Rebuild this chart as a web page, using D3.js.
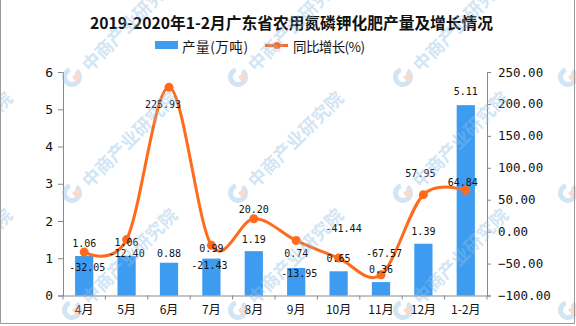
<!DOCTYPE html>
<html><head><meta charset="utf-8">
<script src="https://cdn.jsdelivr.net/npm/d3@7"></script>
<style>body{margin:0;background:#fff}svg{display:block}</style>
</head><body>
<script>
const categories = ["4月","5月","6月","7月","8月","9月","10月","11月","12月","1-2月"];
const production = [1.06,1.06,0.88,0.99,1.19,0.74,0.65,0.36,1.39,5.11];
const growth = [-32.05,-12.40,225.93,-21.43,20.20,-13.95,-41.44,-67.57,57.95,64.84];
const leftTicks = [0,1,2,3,4,5,6];
const rightTicks = [-100,-50,0,50,100,150,200,250];
const title = "2019-2020年1-2月广东省农用氮磷钾化肥产量及增长情况";
const legendLabels = ["产量(万吨)","同比增长(%)"];

const W = 576, H = 326;
const BLUE = "#3d9cf0", ORANGE = "#ff6a1c", AXIS = "#888";
const mono = "'DejaVu Sans Mono', monospace";
const cjk = "'Noto Sans CJK SC', sans-serif";

const svg = d3.select("body").append("svg").attr("width", W).attr("height", H);

const x = d3.scaleBand().domain(categories).range([63, 487]).padding(0);
const yL = d3.scaleLinear().domain([0, 6]).range([295.5, 72]);
const yR = d3.scaleLinear().domain([-100, 250]).range([295.5, 72]);
const barW = x.bandwidth() * 0.43;
const cx = d => x(d) + x.bandwidth() / 2;

// title
svg.append("text").attr("x", 291.5).attr("y", 29).attr("text-anchor", "middle")
  .attr("font-family", cjk).attr("font-weight", "bold").attr("font-size", 16)
  .attr("textLength", 403).attr("lengthAdjust", "spacingAndGlyphs").attr("fill", "#111").text(title);

// legend
svg.append("rect").attr("x", 155).attr("y", 41).attr("width", 23).attr("height", 8).attr("fill", BLUE);
svg.append("text").attr("x", 182).attr("y", 46).attr("dominant-baseline", "central")
  .attr("font-family", cjk).attr("font-size", 13.5).attr("textLength", 66).attr("lengthAdjust", "spacing")
  .attr("fill", "#111").text(legendLabels[0]);
svg.append("line").attr("x1", 265).attr("x2", 288).attr("y1", 45.5).attr("y2", 45.5)
  .attr("stroke", ORANGE).attr("stroke-width", 3);
svg.append("circle").attr("cx", 277).attr("cy", 45.5).attr("r", 3.5).attr("fill", ORANGE);
svg.append("text").attr("x", 293).attr("y", 46).attr("dominant-baseline", "central")
  .attr("font-family", cjk).attr("font-size", 13.5).attr("textLength", 72).attr("lengthAdjust", "spacing")
  .attr("fill", "#111").text(legendLabels[1]);

// bars
svg.append("g").selectAll("rect").data(production).join("rect")
  .attr("x", (d, i) => cx(categories[i]) - barW / 2)
  .attr("y", d => yL(d)).attr("width", barW)
  .attr("height", d => yL(0) - yL(d)).attr("fill", BLUE);

// axes
const axL = svg.append("g").attr("transform", "translate(63,0)")
  .call(d3.axisLeft(yL).tickValues(leftTicks).tickFormat(d3.format("d")).tickSize(5).tickPadding(5));
const axR = svg.append("g").attr("transform", "translate(487,0)")
  .call(d3.axisRight(yR).tickValues(rightTicks).tickFormat(d3.format(".2f")).tickSize(4).tickPadding(7));
const axX = svg.append("g").attr("transform", `translate(0,${yL(0)})`)
  .call(d3.axisBottom(x).tickSize(0).tickPadding(10));
[axL, axR, axX].forEach(g => {
  g.select(".domain").attr("stroke", AXIS);
  g.selectAll(".tick line").attr("stroke", AXIS);
});
axL.selectAll("text").attr("font-family", mono).attr("font-size", 13).attr("fill", "#111");
axR.selectAll("text").attr("font-family", mono).attr("font-size", 12.5).attr("fill", "#111");
axX.selectAll("text").attr("font-family", cjk).attr("font-size", 12).attr("fill", "#111");
// category boundary ticks
axX.append("g").selectAll("line").data(d3.range(categories.length + 1)).join("line")
  .attr("x1", i => 63 + i * x.step()).attr("x2", i => 63 + i * x.step())
  .attr("y1", 0).attr("y2", 4).attr("stroke", AXIS);

// line
const pts = growth.map((v, i) => [cx(categories[i]), yR(v)]);
svg.append("path").attr("d", d3.line().curve(d3.curveCardinal.tension(0))(pts))
  .attr("fill", "none").attr("stroke", ORANGE).attr("stroke-width", 3);
svg.append("g").selectAll("circle").data(pts).join("circle")
  .attr("cx", d => d[0]).attr("cy", d => d[1]).attr("r", 4.5).attr("fill", ORANGE);

// labels
const barLabelDy = [-13,-14,-9,-10,-12,-14,-13,-13,-12,-14];
svg.append("g").selectAll("text").data(production).join("text")
  .attr("x", (d, i) => cx(categories[i])).attr("y", (d, i) => yL(d) + barLabelDy[i])
  .attr("text-anchor", "middle").attr("dominant-baseline", "central")
  .attr("font-family", mono).attr("font-size", 10).attr("fill", "#111")
  .text(d => d.toFixed(2));
const lineLabelDx = [3,0,-6,-2,0,3,5,3,-3,-3];
const lineLabelDy = [15,14,17,20,-9,33,-30,-21,-21,-8];
svg.append("g").selectAll("text").data(growth).join("text")
  .attr("x", (d, i) => cx(categories[i]) + lineLabelDx[i]).attr("y", (d, i) => yR(d) + lineLabelDy[i])
  .attr("text-anchor", "middle").attr("dominant-baseline", "central")
  .attr("font-family", mono).attr("font-size", 10).attr("fill", "#111")
  .text(d => d.toFixed(2));

// watermarks (decorative, partly cut by the frame as in the reference)
const wm = svg.append("g").attr("pointer-events", "none");
[-93, 72, 238, 403, 568].forEach(wx => {
  [77, 193, 310].forEach(wy => {
    const g = wm.append("g").attr("transform", `translate(${wx},${wy})`).attr("opacity", 0.4);
    g.append("path").attr("d", d3.arc().innerRadius(5).outerRadius(10).startAngle(0.6).endAngle(Math.PI * 2 - 0.3)())
      .attr("fill", "#8fc0e8");
    g.append("path").attr("d", d3.arc().innerRadius(0).outerRadius(8).startAngle(0.9).endAngle(2.4)())
      .attr("fill", "#f2a58c");
    g.append("text").attr("transform", "translate(12,-10) rotate(-45)")
      .attr("font-family", cjk).attr("font-weight", "bold").attr("font-size", 18)
      .attr("dominant-baseline", "central").attr("fill", "#8fc0e8").text("中商产业研究院");
  });
});

// border
svg.append("path").attr("d", `M0.5,0 V${H - 2.5} H${W - 1.5} V0`).attr("fill", "none").attr("stroke", "#999");
</script>
</body></html>
